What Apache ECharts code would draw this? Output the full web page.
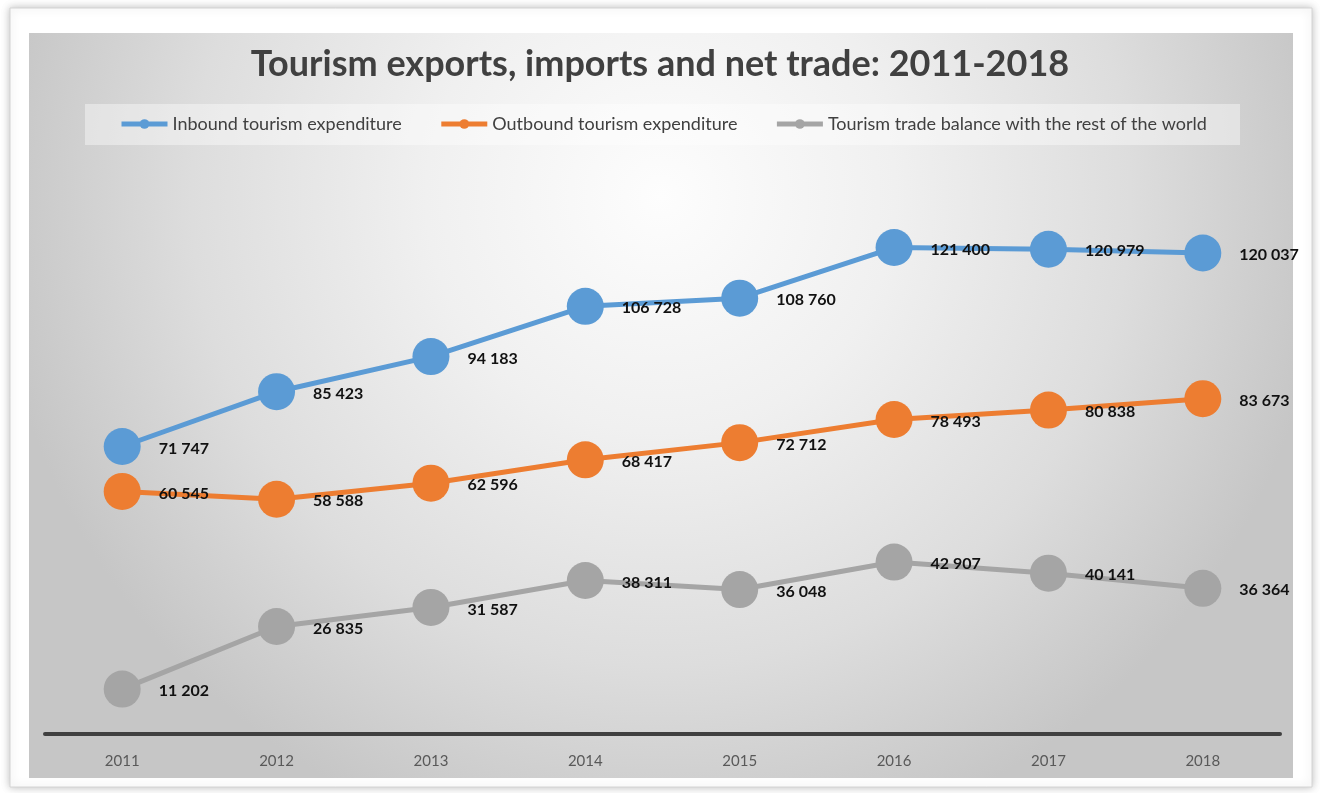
<!DOCTYPE html>
<html>
<head>
<meta charset="utf-8">
<title>Tourism exports, imports and net trade: 2011-2018</title>
<script src="https://cdn.jsdelivr.net/npm/echarts@6/dist/echarts.min.js"></script>
<style>
  html, body { margin: 0; padding: 0; background: #ffffff; }
  #chart { width: 1320px; height: 793px; }
</style>
</head>
<body>
<div id="chart"></div>
<script>
// Years on the category axis
const years = ['2011', '2012', '2013', '2014', '2015', '2016', '2017', '2018'];

// Tourism expenditure values per year
const inbound = [71747, 85423, 94183, 106728, 108760, 121400, 120979, 120037];
const outbound = [60545, 58588, 62596, 68417, 72712, 78493, 80838, 83673];
const balance = [11202, 26835, 31587, 38311, 36048, 42907, 40141, 36364];

const seriesNames = [
  'Inbound tourism expenditure',
  'Outbound tourism expenditure',
  'Tourism trade balance with the rest of the world'
];
const seriesColors = ['#5B9BD5', '#ED7D31', '#A5A5A5'];

const FONT = 'Lato, "Open Sans", sans-serif';

// Thousands separated by a space: 71747 -> "71 747"
function spaced(v) {
  return String(v).replace(/\B(?=(\d{3})+(?!\d))/g, ' ');
}

function lineSeries(name, data, color) {
  return {
    name: name,
    type: 'line',
    data: data,
    symbol: 'circle',
    symbolSize: 37,
    lineStyle: { color: color, width: 5 },
    itemStyle: { color: color },
    label: {
      show: true,
      position: 'right',
      distance: 18,
      offset: [0, 2],
      color: '#111111',
      fontFamily: FONT,
      fontWeight: 'bold',
      fontSize: 16,
      formatter: p => spaced(p.value)
    },
    emphasis: { disabled: true },
    animation: false
  };
}

const chart = echarts.init(document.getElementById('chart'), null, { renderer: 'canvas' });

chart.setOption({
  backgroundColor: '#ffffff',
  graphic: [
    {
      // white card with a soft shadow
      type: 'rect',
      z: -20,
      shape: { x: 10, y: 8, width: 1302, height: 779 },
      style: {
        fill: '#ffffff',
        stroke: '#d4d4d4',
        lineWidth: 1,
        shadowBlur: 8,
        shadowColor: 'rgba(0,0,0,0.25)'
      }
    },
    {
      // chart panel with radial shading
      type: 'rect',
      z: -19,
      shape: { x: 29, y: 33, width: 1264, height: 745 },
      style: {
        fill: new echarts.graphic.RadialGradient(0.5, 0.22, 0.9, [
          { offset: 0, color: '#fdfdfd' },
          { offset: 0.35, color: '#f0f0f0' },
          { offset: 0.7, color: '#dddddd' },
          { offset: 1, color: '#c6c6c6' }
        ])
      }
    },
    {
      // legend band
      type: 'rect',
      z: -18,
      shape: { x: 85, y: 104, width: 1155, height: 41 },
      style: { fill: 'rgba(255,255,255,0.4)' }
    }
  ],
  title: {
    text: 'Tourism exports, imports and net trade: 2011-2018',
    left: 'center',
    top: 41,
    textStyle: {
      fontFamily: FONT,
      fontWeight: 'bold',
      fontSize: 36,
      color: '#404040'
    }
  },
  legend: {
    data: seriesNames,
    left: 119,
    top: 115,
    padding: 0,
    itemWidth: 46,
    itemHeight: 12,
    itemGap: 37,
    lineStyle: { width: 5 },
    textStyle: {
      fontFamily: FONT,
      fontSize: 18,
      color: '#404040'
    },
    selectedMode: false
  },
  grid: { left: 45, right: 40, top: 173, bottom: 59, containLabel: false },
  xAxis: {
    type: 'category',
    data: years,
    boundaryGap: true,
    axisLine: { show: true, lineStyle: { color: '#404040', width: 4 } },
    axisTick: { show: false },
    axisLabel: {
      margin: 20,
      color: '#595959',
      fontFamily: FONT,
      fontSize: 15
    },
    splitLine: { show: false }
  },
  yAxis: {
    type: 'value',
    min: 0,
    max: 140000,
    show: false,
    splitLine: { show: false }
  },
  series: [
    lineSeries(seriesNames[0], inbound, seriesColors[0]),
    lineSeries(seriesNames[1], outbound, seriesColors[1]),
    lineSeries(seriesNames[2], balance, seriesColors[2])
  ],
  animation: false
});
</script>
</body>
</html>
